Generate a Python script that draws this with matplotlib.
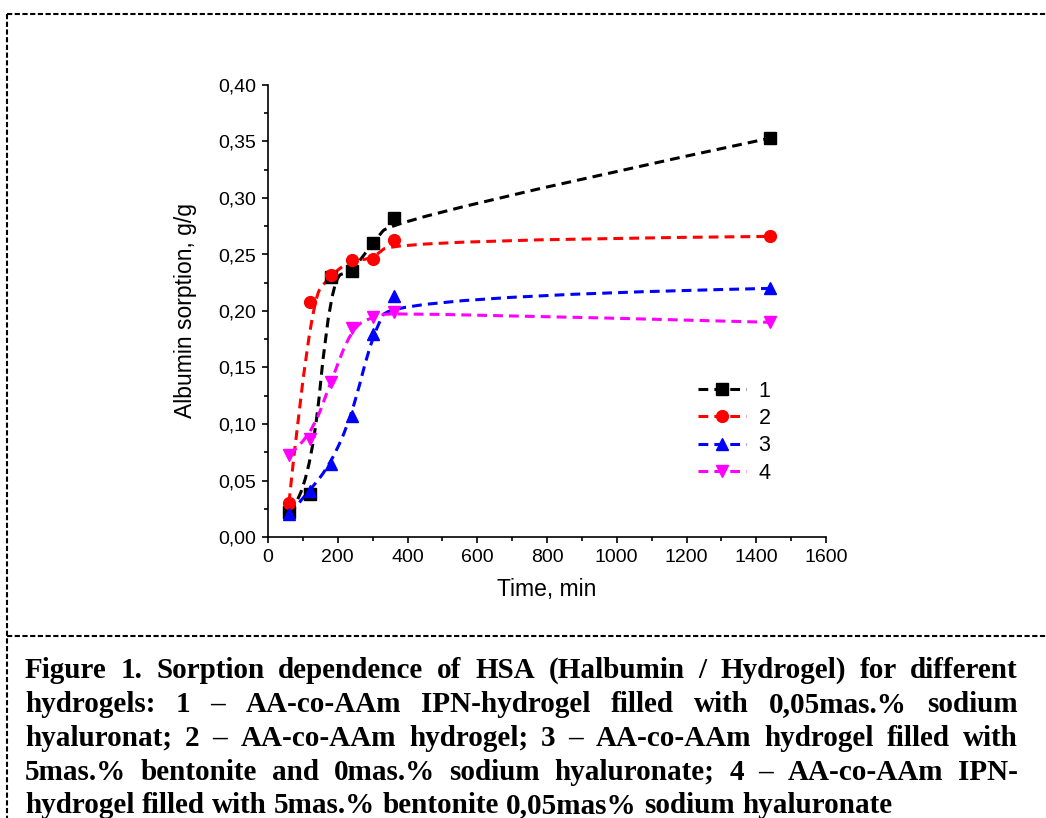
import numpy as np
import matplotlib
matplotlib.use("Agg")
import matplotlib.pyplot as plt
from matplotlib.path import Path
from matplotlib.patches import PathPatch
from matplotlib.lines import Line2D
from matplotlib.ticker import FuncFormatter, MultipleLocator

plt.rcParams['font.family'] = ['Liberation Sans', 'DejaVu Sans']

# data
time_min = [60, 120, 180, 240, 300, 360, 1440]
s1 = [0.022, 0.038, 0.230, 0.235, 0.260, 0.282, 0.353]
s2 = [0.030, 0.208, 0.232, 0.245, 0.246, 0.263, 0.266]
s3 = [0.020, 0.041, 0.065, 0.107, 0.180, 0.213, 0.220]
s4 = [0.073, 0.087, 0.137, 0.185, 0.195, 0.199, 0.190]
series = [s1, s2, s3, s4]
labels = ['1', '2', '3', '4']
colors = ['black', 'red', 'blue', 'magenta']
markers = ['s', 'o', '^', 'v']

caption = [
    "Figure 1. Sorption dependence of HSA (Halbumin / Hydrogel) for different",
    "hydrogels: 1 \u2013 AA-co-AAm IPN-hydrogel filled with 0,05mas.% sodium",
    "hyaluronat; 2 \u2013 AA-co-AAm hydrogel; 3 \u2013 AA-co-AAm hydrogel filled with",
    "5mas.% bentonite and 0mas.% sodium hyaluronate; 4 \u2013 AA-co-AAm IPN-",
    "hydrogel filled with 5mas.% bentonite 0,05mas% sodium hyaluronate",
]

W, H = 1046, 818
fig = plt.figure(figsize=(W / 100, H / 100), dpi=100)
ax = fig.add_axes([268 / W, 1 - 537 / H, 558 / W, 452 / H])


def bspline(x, y):
    # quadratic B-spline with the data points as control points
    pts = np.column_stack([x, y])
    verts = [pts[0]]
    codes = [Path.MOVETO]
    for i in range(1, len(pts) - 1):
        end = pts[i + 1] if i == len(pts) - 2 else (pts[i] + pts[i + 1]) / 2
        verts += [pts[i], end]
        codes += [Path.CURVE3, Path.CURVE3]
    return Path(verts, codes)


dash = (0, (3.2, 2.0))
for ys, c, m in zip(series, colors, markers):
    ax.add_patch(PathPatch(bspline(time_min, ys), fill=False, edgecolor=c,
                           lw=2.2, linestyle=dash, zorder=2))
    ax.plot(time_min, ys, ls='none', marker=m, color=c, ms=8.5, zorder=3)

ax.set_xlim(0, 1600)
ax.set_ylim(0, 0.40)
ax.xaxis.set_major_locator(MultipleLocator(200))
ax.xaxis.set_minor_locator(MultipleLocator(100))
ax.yaxis.set_major_locator(MultipleLocator(0.05))
ax.yaxis.set_minor_locator(MultipleLocator(0.025))
ax.yaxis.set_major_formatter(FuncFormatter(lambda v, p: f"{v:.2f}".replace('.', ',')))
for s in ['top', 'right']:
    ax.spines[s].set_visible(False)
for s in ['left', 'bottom']:
    ax.spines[s].set_linewidth(1.2)
ax.tick_params(which='major', direction='out', length=4.5, width=1.2, labelsize=14, pad=4)
ax.tick_params(which='minor', direction='out', length=2.8, width=1.2)
ax.set_xlabel('Time, min', fontsize=16.5, labelpad=9)
ax.set_ylabel('Albumin sorption, g/g', fontsize=16.5, labelpad=15)

handles = [Line2D([], [], color=c, marker=m, ms=8.5, lw=2.2, linestyle=dash)
           for c, m in zip(colors, markers)]
ax.legend(handles, labels, loc='upper left', bbox_to_anchor=(0.752, 0.37),
          frameon=False, fontsize=15.5, handlelength=2.2, handletextpad=0.6,
          labelspacing=0.3, borderpad=0)

# dashed frame and divider
frame = dict(color='black', lw=1.5, linestyle=(0, (2.5, 1.2)), transform=fig.transFigure)
fig.add_artist(Line2D([7 / W, 1], [1 - 14 / H, 1 - 14 / H], **frame))
fig.add_artist(Line2D([7 / W, 7 / W], [1 - 14 / H, 0], **frame))
fig.add_artist(Line2D([7 / W, 1], [1 - 636 / H, 1 - 636 / H], **frame))

# justified caption
fig.canvas.draw()
renderer = fig.canvas.get_renderer()
left, right = 25, 1018
baselines = [678, 712, 746, 780, 813]
cap_font = dict(family=['Liberation Serif', 'DejaVu Serif'], weight='bold',
                fontsize=21, va='baseline', ha='left')
for k, (line, yb) in enumerate(zip(caption, baselines)):
    words = line.split(' ')
    texts = [fig.text(0, 1 - yb / H, w, **cap_font) for w in words]
    widths = [t.get_window_extent(renderer).width for t in texts]
    if k < len(caption) - 1:
        gap = (right - left - sum(widths)) / (len(words) - 1)
    else:
        space = fig.text(0, 0, 'a a', **cap_font)
        one = fig.text(0, 0, 'aa', **cap_font)
        gap = space.get_window_extent(renderer).width - one.get_window_extent(renderer).width
        space.remove()
        one.remove()
    x = left
    for t, w in zip(texts, widths):
        t.set_x(x / W)
        x += w + gap

fig.savefig('out.png', dpi=100)
